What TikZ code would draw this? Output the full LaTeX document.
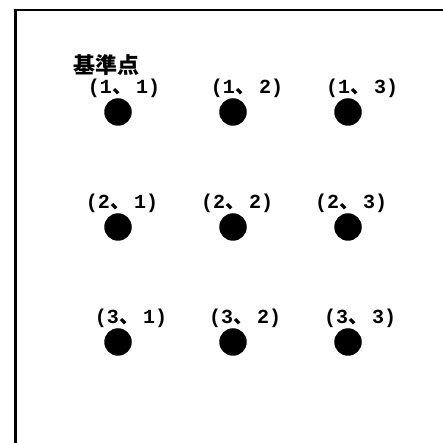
\documentclass[tikz,border=0pt]{standalone}
\usepackage{fontspec}
\setmainfont{Liberation Serif}
\newfontfamily\monofont{Liberation Mono}
\newfontfamily\jpfont{Noto Sans CJK JP}
\usetikzlibrary{positioning}
\newcommand\gridlabel[2]{(#1\makebox[0.6em][l]{\jpfont 、} #2)}
\tikzset{
  dot/.style={circle,fill=black,inner sep=0pt,minimum size=27.5pt},
  lbl/.style={font=\monofont\bfseries\fontsize{20}{22}\selectfont,inner sep=0pt,anchor=base}
}

\begin{document}
\begin{tikzpicture}[x=1pt,y=1pt]
        \useasboundingbox (0,0) rectangle (443,443);
        % frame, top and left only
        \draw[line width=3pt] (15,0) -- (15,433);
        \draw[line width=2pt] (13.5,433) -- (443,433);
        % grid of points
        \foreach \r in {1,2,3}{\foreach \c in {1,2,3}{
          \node[dot] (d\r\c) at ({118+115*(\c-1)},{331-115*(\r-1)}) {};}}
        \foreach \r/\c/\dx in {1/1/6,1/2/14,1/3/14,2/1/4,2/2/4,2/3/3,3/1/13,3/2/12,3/3/12}
          \node[lbl] (l\r\c) at ([xshift=\dx pt,yshift=18pt]d\r\c.center) {\gridlabel{\r}{\c}};
        \node[font=\jpfont\bfseries\fontsize{22}{24}\selectfont,anchor=base] (ref) at (106.5,369.5) {基準点};
      \end{tikzpicture}
\end{document}
